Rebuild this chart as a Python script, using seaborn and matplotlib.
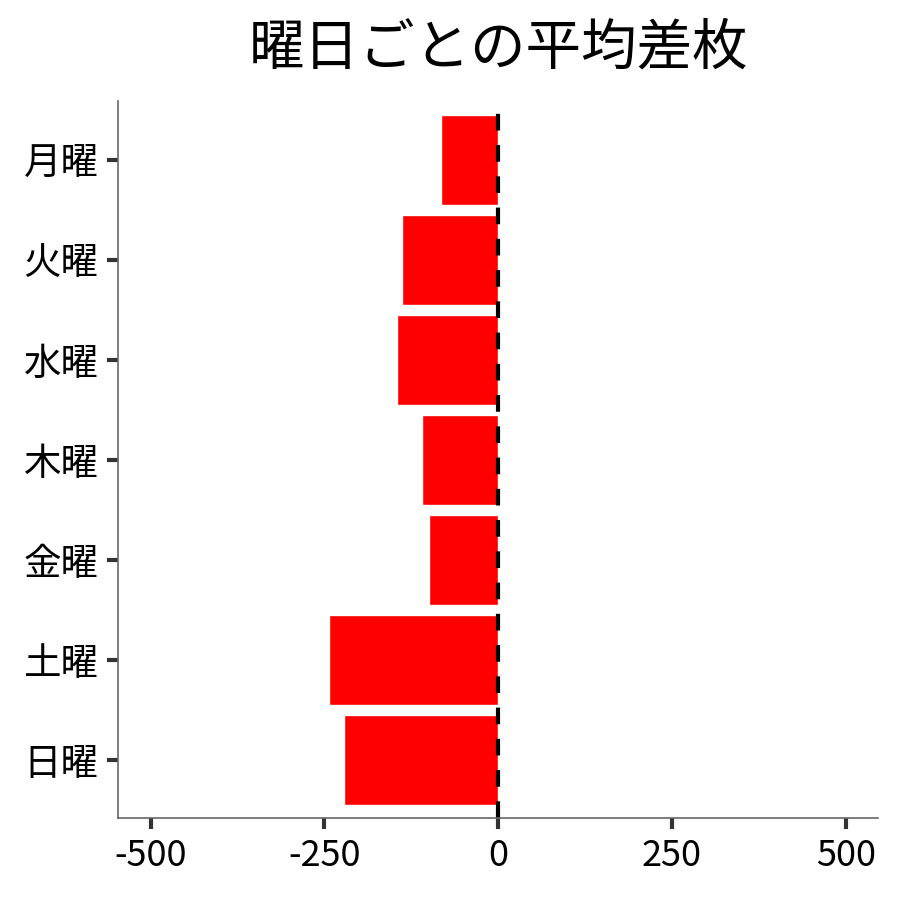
import pandas as pd
import seaborn as sns
import matplotlib.pyplot as plt

# ---------------- Data ----------------
days = ["月曜", "火曜", "水曜", "木曜", "金曜", "土曜", "日曜"]
avg_diff = [-82, -139, -146, -110, -100, -243, -222]
x_ticks = [-500, -250, 0, 250, 500]

df = pd.DataFrame({"曜日": days, "平均差枚": avg_diff})

# ---------------- Style ----------------
sns.set_theme(style="white")
plt.rcParams["font.family"] = ["Noto Sans CJK JP", "DejaVu Sans"]
plt.rcParams["text.color"] = "black"

fig = plt.figure(figsize=(9, 9), dpi=100)
ax = fig.add_axes([0.131, 0.091, 0.845, 0.797])

sns.barplot(data=df, x="平均差枚", y="曜日", order=days, color="#ff0000",
            saturation=1, width=0.9, ax=ax)
ax.axvline(0, color="black", linestyle="--", linewidth=3, dashes=(4, 3.5))

ax.set_xlim(-547, 547)
ax.set_ylim(6.58, -0.59)
ax.set_xticks(x_ticks)
ax.set_xticklabels([str(t) for t in x_ticks])
ax.set_xlabel("")
ax.set_ylabel("")
ax.set_title("曜日ごとの平均差枚", fontsize=40, pad=26, color="black")

ax.tick_params(axis="both", length=8, width=3, color="#333333",
               labelcolor="black", pad=6, left=True, bottom=True)
ax.tick_params(axis="x", labelsize=26)
ax.tick_params(axis="y", labelsize=27)
for side in ["top", "right"]:
    ax.spines[side].set_visible(False)
for side in ["left", "bottom"]:
    ax.spines[side].set_color("#666666")
    ax.spines[side].set_linewidth(1.2)

fig.savefig("out.png", dpi=100)
